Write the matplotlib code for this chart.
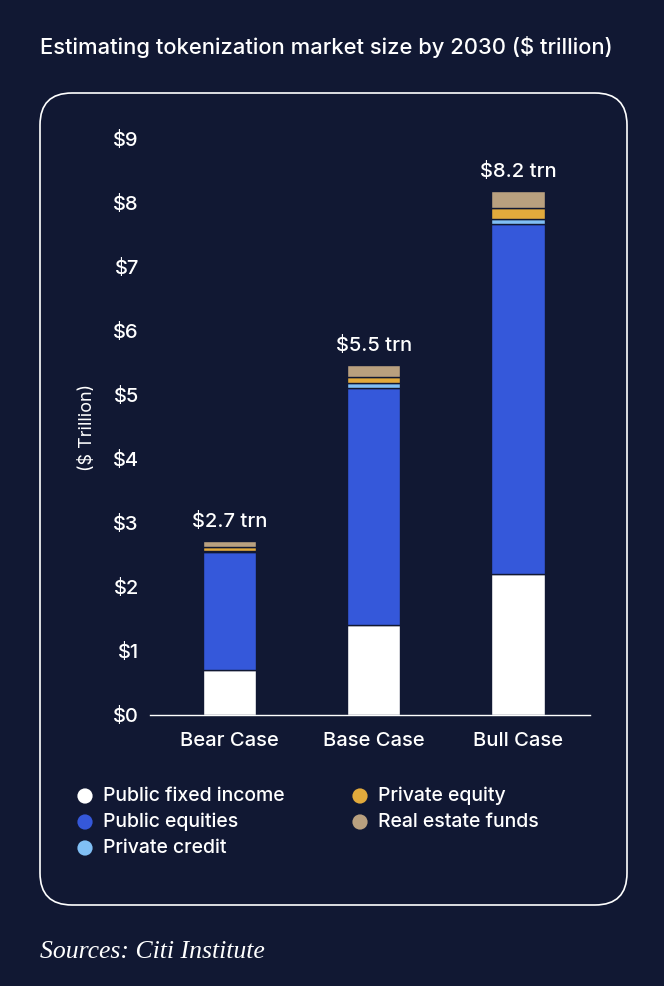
import matplotlib
matplotlib.use("Agg")
import matplotlib.pyplot as plt
from matplotlib.patches import FancyBboxPatch

# data ($ trillion)
cases = ["Bear Case", "Base Case", "Bull Case"]
public_fixed_income = [0.70, 1.41, 2.20]
public_equities = [1.85, 3.70, 5.47]
private_credit = [0.01, 0.08, 0.08]
private_equity = [0.07, 0.09, 0.17]
real_estate_funds = [0.09, 0.19, 0.27]
totals = ["$2.7 trn", "$5.5 trn", "$8.2 trn"]
yticks = list(range(0, 10))

series = [
    ("Public fixed income", public_fixed_income, "#ffffff"),
    ("Public equities", public_equities, "#3558da"),
    ("Private credit", private_credit, "#80bff5"),
    ("Private equity", private_equity, "#e2aa3c"),
    ("Real estate funds", real_estate_funds, "#b9a07f"),
]

bg = "#111833"
plt.rcParams["font.family"] = ["Inter", "DejaVu Sans"]
plt.rcParams["font.weight"] = "medium"

W, H = 664, 986
fig = plt.figure(figsize=(W / 100, H / 100), dpi=100, facecolor=bg)

# overlay for frame, title, legend (pixel coords)
ov = fig.add_axes([0, 0, 1, 1])
ov.set_xlim(0, W)
ov.set_ylim(H, 0)
ov.axis("off")
ov.set_facecolor("none")

box = FancyBboxPatch((40, 93), 587, 812, boxstyle="round,pad=0,rounding_size=32",
                     facecolor="none", edgecolor="white", linewidth=1.2)
ov.add_patch(box)

ov.text(40, 47, "Estimating tokenization market size by 2030 ($ trillion)",
        color="white", fontsize=15.8, va="center", ha="left")
ov.text(40, 952, "Sources: Citi Institute", color="white", fontsize=18.5,
        style="italic", family="Liberation Serif", va="center", ha="left")

# legend, two columns
legend_pos = [(85, 796), (85, 822), (85, 848), (360, 796), (360, 822)]
for (name, vals, col), (lx, ly) in zip(series, legend_pos):
    ov.scatter([lx], [ly], s=120, color=col, edgecolor="none")
    ov.text(lx + 18, ly, name, color="white", fontsize=14, va="center", ha="left")

# main chart
ax = fig.add_axes([150 / W, 1 - 715 / H, 440 / W, (715 - 139) / H])
ax.set_facecolor("none")
x = list(range(len(cases)))
bottom = [0.0] * len(cases)
for name, vals, col in series:
    ax.bar(x, vals, width=0.37, bottom=bottom, color=col, edgecolor=bg, linewidth=1)
    bottom = [b + v for b, v in zip(bottom, vals)]

for xi, top, lab in zip(x, bottom, totals):
    ax.text(xi, top + 0.16, lab, color="white", fontsize=14.5, ha="center", va="bottom")

ax.set_xlim(-0.55, 2.5)
ax.set_ylim(0, 9)
ax.set_yticks(yticks)
ax.set_yticklabels([f"${t}" for t in yticks])
ax.set_xticks(x)
ax.set_xticklabels(cases)
ax.tick_params(colors="white", labelsize=14.5, length=0)
ax.tick_params(axis="y", pad=8)
ax.tick_params(axis="x", pad=12)
for s in ["top", "right", "left"]:
    ax.spines[s].set_visible(False)
ax.spines["bottom"].set_color("white")
ax.spines["bottom"].set_linewidth(1)
ax.set_ylabel("($ Trillion)", color="white", fontsize=13, labelpad=12)

fig.savefig("out.png", dpi=100, facecolor=bg)
